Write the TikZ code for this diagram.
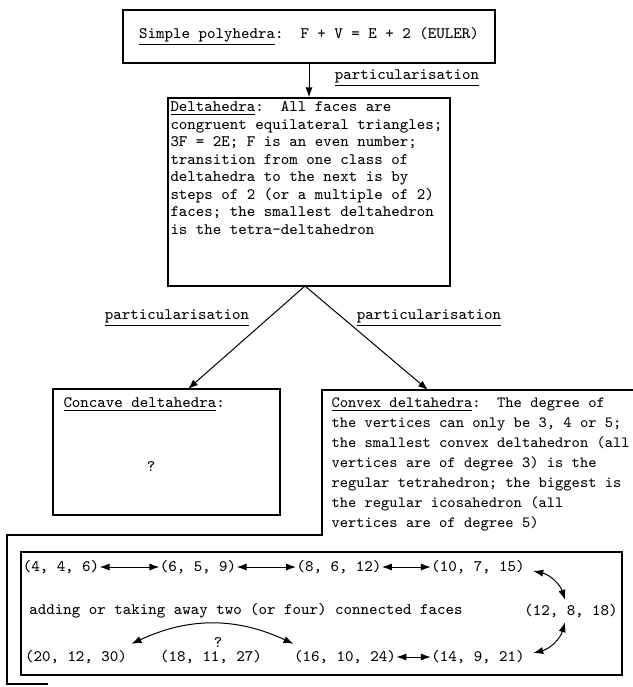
\documentclass[tikz,border=0pt]{standalone}
\usepackage{tikz}
\usetikzlibrary{arrows,arrows.meta,positioning}

\begin{document}
\begin{tikzpicture}[x=0.5pt, y=-0.5pt, line width=0.5pt, >={Latex[length=5pt,width=3.6pt]}]
\tikzstyle{every node} = [font=\fontsize{8}{8.75}\selectfont\ttfamily, inner sep=0pt]
\tikzstyle{box} = [draw, rectangle, line width=0.75pt]
\useasboundingbox (0,0) rectangle (633,687);
\clip (0,0) rectangle (633,687);
% boxes
\node[box, minimum width=186pt, minimum height=26.5pt] (simple) at (309,36.5)
	{\underline{Simple polyhedra}:\ \ F + V = E + 2 (EULER)};
\node[box, minimum width=141pt, minimum height=94pt] (delta) at (309,192) {};
\node[box, minimum width=113.5pt, minimum height=63pt] (concave) at (166.5,452) {};
\node[box, minimum width=300.5pt, minimum height=61.5pt] (cycle) at (321.5,613.5) {};
\draw[line width=0.75pt] (700,390) -- (322,390) -- (322,535) -- (7,535) -- (7,684) -- (48,684);
% texts
\node[anchor=north west, align=left] (deltatext) at (170,101)
	{\underline{Deltahedra}:\ \ All faces are\\
	congruent equilateral triangles;\\
	3F = 2E; F is an even number;\\
	transition from one class of\\
	deltahedra to the next is by\\
	steps of 2 (or a multiple of 2)\\
	faces; the smallest deltahedron\\
	is the tetra-deltahedron};
\node[anchor=north west] (concavetext) at (63,397) {\underline{Concave deltahedra}:};
\node (unknown) at (151,467) {?};
\node[anchor=north west, align=left, font=\fontsize{7.8}{10}\selectfont\ttfamily] (convextext) at (331,397)
	{\underline{Convex deltahedra}:\ \ The degree of\\
	the vertices can only be 3, 4 or 5;\\
	the smallest convex deltahedron (all\\
	vertices are of degree 3) is the\\
	regular tetrahedron; the biggest is\\
	the regular icosahedron (all\\
	vertices are of degree 5)};
\node (part1) at (407,78) {\underline{particularisation}};
\node (part2) at (177,318) {\underline{particularisation}};
\node (part3) at (429,318) {\underline{particularisation}};
% arrows between the classes
\coordinate (fork) at (305,286);
\coordinate (concavetip) at (188,389);
\coordinate (convextip) at (428,390);
\draw[->] (simple.south) -- (delta.north);
\draw[->] (fork) -- (concavetip);
\draw[->] (fork) -- (convextip);
% (F, V, E)
\node (n446) at (61,567) {(4, 4, 6)};
\node (n659) at (198,567) {(6, 5, 9)};
\node (n8612) at (339,567) {(8, 6, 12)};
\node (n10715) at (478,567) {(10, 7, 15)};
\node (n12818) at (571,611) {(12, 8, 18)};
\node (n14921) at (478,657) {(14, 9, 21)};
\node (n161024) at (345,657) {(16, 10, 24)};
\node (n181127) at (211,657) {(18, 11, 27)};
\node (n201230) at (76,657) {(20, 12, 30)};
\node (adding) at (246,611) {adding or taking away two (or four) connected faces};
\node (what) at (218,643) {?};
\draw[<->] (n446) -- (n659);
\draw[<->] (n659) -- (n8612);
\draw[<->] (n8612) -- (n10715);
\draw[<->] ([xshift=4pt,yshift=-2pt]n10715.east) to [bend left=30] ([xshift=-3pt,yshift=2pt]n12818.north);
\draw[<->] ([xshift=-3pt,yshift=-2pt]n12818.south) to [bend left=30] ([xshift=4pt,yshift=2pt]n14921.east);
\draw[<->] (n161024) -- (n14921);
\draw[<->] ([xshift=2pt,yshift=3pt]n201230.north east) to [bend left=25] ([yshift=3pt]n161024.north west);
\end{tikzpicture}
\end{document}
